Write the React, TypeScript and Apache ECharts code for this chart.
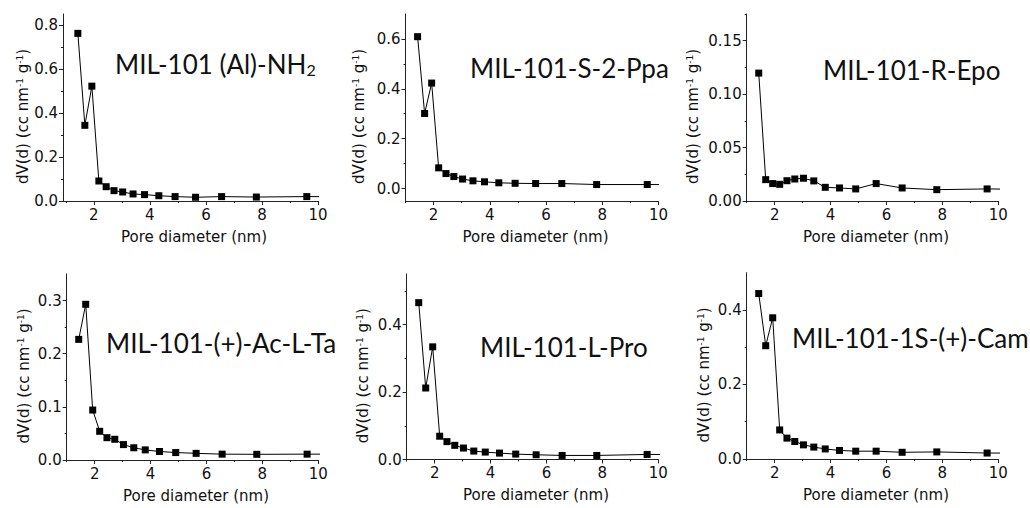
import React, { useEffect, useRef } from "react";
import * as echarts from "echarts";

// Pore diameters (nm) shared by all six samples (last value lies past the axis end)
const PORE_DIAMETER = [1.43, 1.68, 1.93, 2.18, 2.44, 2.72, 3.03, 3.4, 3.81, 4.32, 4.9, 5.63, 6.56, 7.8, 9.6, 12.3];

const AL_NH2 = [0.762, 0.344, 0.522, 0.091, 0.065, 0.047, 0.041, 0.032, 0.029, 0.024, 0.02, 0.017, 0.02, 0.018, 0.02, 0.019];
const S2_PPA = [0.609, 0.301, 0.423, 0.083, 0.06, 0.048, 0.038, 0.031, 0.027, 0.023, 0.021, 0.02, 0.02, 0.016, 0.016, 0.015];
const R_EPO = [0.1197, 0.02, 0.0163, 0.0156, 0.019, 0.0206, 0.0213, 0.0188, 0.0128, 0.0122, 0.0113, 0.0163, 0.0122, 0.0106, 0.0113, 0.0105];
const AC_L_TA = [0.227, 0.293, 0.094, 0.054, 0.042, 0.039, 0.029, 0.023, 0.019, 0.016, 0.014, 0.0125, 0.011, 0.0107, 0.011, 0.011];
const L_PRO = [0.465, 0.212, 0.334, 0.069, 0.053, 0.042, 0.034, 0.025, 0.022, 0.019, 0.016, 0.014, 0.012, 0.012, 0.015, 0.014];
const CAM = [0.444, 0.304, 0.379, 0.078, 0.056, 0.047, 0.038, 0.032, 0.027, 0.023, 0.021, 0.021, 0.018, 0.019, 0.016, 0.016];

const TITLES = [
  "MIL-101 (Al)-NH{sub|2}",
  "MIL-101-S-2-Ppa",
  "MIL-101-R-Epo",
  "MIL-101-(+)-Ac-L-Ta",
  "MIL-101-L-Pro",
  "MIL-101-1S-(+)-Cam",
];

const X_MAJOR = [2, 4, 6, 8, 10];
const X_MINOR = [1, 3, 5, 7, 9];

const Y_MAJOR = [
  [0, 0.2, 0.4, 0.6, 0.8],
  [0, 0.2, 0.4, 0.6],
  [0, 0.05, 0.1, 0.15],
  [0, 0.1, 0.2, 0.3],
  [0, 0.2, 0.4],
  [0, 0.2, 0.4],
];
const Y_MINOR = [
  [0.1, 0.3, 0.5, 0.7],
  [0.1, 0.3, 0.5],
  [0.025, 0.075, 0.125, 0.175],
  [0.05, 0.15, 0.25],
  [0.1, 0.3, 0.5],
  [0.1, 0.3],
];
const Y_DECIMALS = [1, 1, 2, 1, 1, 1];

const X_NAME = "Pore diameter (nm)";
const Y_NAME = "dV(d) (cc nm{sup|-1} g{sup|-1})";

const SERIES = [AL_NH2, S2_PPA, R_EPO, AC_L_TA, L_PRO, CAM];

// layout (pixels / axis ranges)
const PANELS = [
  { left: 63, top: 14, width: 255, height: 187, xMin: 0.9, yMin: 0, yMax: 0.85, yGap: 25, tx: 115, ty: 64 },
  { left: 405.5, top: 14, width: 253, height: 187, xMin: 1.0, yMin: -0.05, yMax: 0.7, yGap: 39, tx: 470, ty: 68 },
  { left: 746.7, top: 14, width: 251.6, height: 187, xMin: 1.0, yMin: 0, yMax: 0.175, yGap: 46, tx: 823, ty: 70 },
  { left: 66.7, top: 274, width: 251.6, height: 186, xMin: 1.0, yMin: 0, yMax: 0.35, yGap: 35, tx: 106, ty: 343 },
  { left: 406.7, top: 274, width: 251.6, height: 185.5, xMin: 1.0, yMin: 0, yMax: 0.55, yGap: 36, tx: 480, ty: 347 },
  { left: 746.7, top: 272.7, width: 251.6, height: 186.3, xMin: 1.0, yMin: 0, yMax: 0.5, yGap: 35, tx: 792, ty: 338 },
];

const AXIS_COLOR = "#222";
const TEXT_COLOR = "#111";
const LABEL_FONT = "DejaVu Sans";
const TITLE_FONT = "Lato";

export default function App() {
  const ref = useRef<HTMLDivElement>(null);

  useEffect(() => {
    if (!ref.current) return;
    const chart = echarts.init(ref.current, undefined, { renderer: "svg" });

    const grid: any[] = [];
    const xAxis: any[] = [];
    const yAxis: any[] = [];
    const series: any[] = [];
    const graphic: any[] = [];

    PANELS.forEach((p, i) => {
      grid.push({ left: p.left, top: p.top, width: p.width, height: p.height, containLabel: false });
      const lineStyle = { color: AXIS_COLOR, width: 1 };
      xAxis.push({
        type: "value",
        gridIndex: i,
        position: "bottom",
        min: p.xMin,
        max: 10,
        axisLine: { show: true, onZero: false, lineStyle },
        axisTick: { show: true, inside: false, length: 4, customValues: X_MAJOR, lineStyle },
        axisLabel: {
          customValues: X_MAJOR,
          margin: 6,
          fontSize: 15,
          fontFamily: LABEL_FONT,
          color: TEXT_COLOR,
          formatter: (v: number) => String(v),
        },
        splitLine: { show: false },
        name: X_NAME,
        nameLocation: "middle",
        nameGap: 28,
        nameTextStyle: { fontSize: 15, fontFamily: LABEL_FONT, color: TEXT_COLOR, padding: [0, 0, 0, 7] },
      });
      xAxis.push({
        type: "value",
        gridIndex: i,
        position: "bottom",
        offset: 0,
        min: p.xMin,
        max: 10,
        axisLine: { show: false, onZero: false },
        axisTick: { show: true, inside: false, length: 2, customValues: X_MINOR, lineStyle },
        axisLabel: { show: false },
        splitLine: { show: false },
      });
      yAxis.push({
        type: "value",
        gridIndex: i,
        position: "left",
        min: p.yMin,
        max: p.yMax,
        axisLine: { show: true, onZero: false, lineStyle },
        axisTick: { show: true, inside: false, length: 4, customValues: Y_MAJOR[i], lineStyle },
        axisLabel: {
          customValues: Y_MAJOR[i],
          margin: 5,
          fontSize: 15,
          fontFamily: LABEL_FONT,
          color: TEXT_COLOR,
          formatter: (v: number) => v.toFixed(Y_DECIMALS[i]),
        },
        splitLine: { show: false },
        name: Y_NAME,
        nameLocation: "middle",
        nameRotate: 90,
        nameGap: p.yGap,
        nameTextStyle: {
          fontSize: 15,
          fontFamily: LABEL_FONT,
          color: TEXT_COLOR,
          padding: [0, 18, 0, 0],
          rich: { sup: { fontSize: 9, fontFamily: LABEL_FONT, color: TEXT_COLOR, verticalAlign: "top" } },
        },
      });
      yAxis.push({
        type: "value",
        gridIndex: i,
        position: "left",
        offset: 0,
        min: p.yMin,
        max: p.yMax,
        axisLine: { show: false, onZero: false },
        axisTick: { show: true, inside: false, length: 2, customValues: Y_MINOR[i], lineStyle },
        axisLabel: { show: false },
        splitLine: { show: false },
      });
      series.push({
        type: "line",
        xAxisIndex: 2 * i,
        yAxisIndex: 2 * i,
        data: PORE_DIAMETER.map((x, k) => [x, SERIES[i][k]]),
        symbol: "rect",
        symbolSize: 7,
        clip: true,
        lineStyle: { color: "#000", width: 1 },
        itemStyle: { color: "#000" },
        emphasis: { disabled: true },
      });
      graphic.push({
        type: "text",
        x: p.tx,
        y: p.ty,
        style: {
          text: TITLES[i],
          fontSize: 26,
          fontFamily: TITLE_FONT,
          fill: "#111",
          verticalAlign: "middle",
          align: "left",
          rich: { sub: { fontSize: 16, fontFamily: TITLE_FONT, fill: "#111", verticalAlign: "bottom" } },
        },
      });
    });

    chart.setOption({
      animation: false,
      backgroundColor: "#fff",
      grid,
      xAxis,
      yAxis,
      series,
      graphic,
    });

    return () => chart.dispose();
  }, []);

  return (
    <div
      ref={ref}
      style={{ position: "fixed", left: 0, top: 0, width: 1030, height: 508, background: "#fff" }}
    />
  );
}
